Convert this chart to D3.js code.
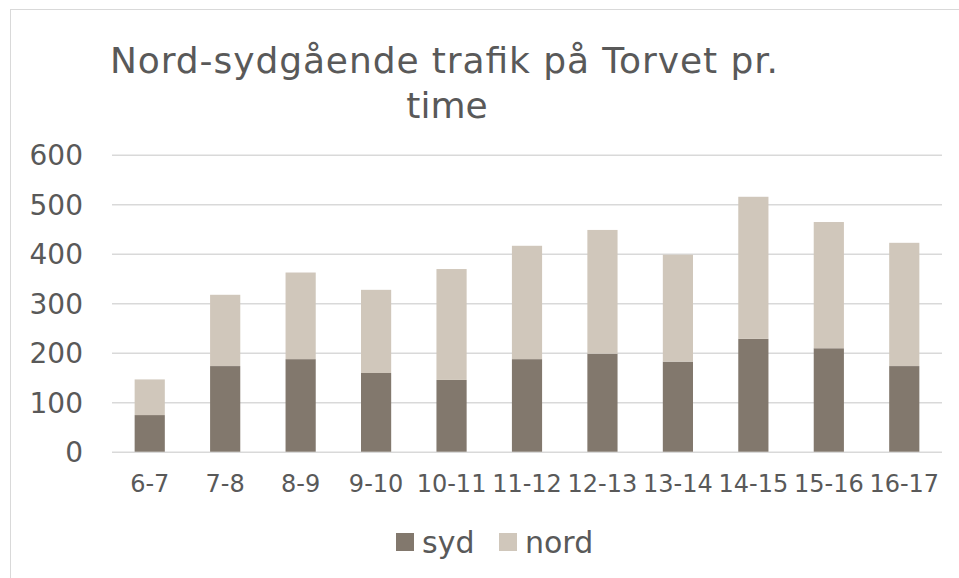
<!DOCTYPE html>
<html>
<head>
<meta charset="utf-8">
<script src="https://cdn.jsdelivr.net/npm/d3@7"></script>
<style>
  html, body { margin: 0; padding: 0; background: #fff; }
  svg text { font-family: 'DejaVu Sans', Verdana, sans-serif; }
</style>
</head>
<body>
<svg id="chart" width="959" height="578"></svg>
<script>
const hours = ['6-7', '7-8', '8-9', '9-10', '10-11', '11-12', '12-13', '13-14', '14-15', '15-16', '16-17']
const syd = [74, 173, 187, 159, 145, 187, 198, 182, 228, 209, 173]
const nord = [72, 144, 175, 168, 224, 229, 250, 216, 287, 255, 249]
const yTicks = [0, 100, 200, 300, 400, 500, 600]
const seriesNames = ['syd', 'nord']
const colors = {syd: '#82786d', nord: '#d0c7bb'}
const textColor = '#595959'
const font = "'DejaVu Sans', Verdana, sans-serif"

const svg = d3.select('#chart')

// chart frame
svg.append('rect')
  .attr('x', 10.5).attr('y', 9.5)
  .attr('width', 960).attr('height', 600)
  .attr('fill', 'none')
  .attr('stroke', '#d9d9d9')

const x = d3.scaleBand()
  .domain(hours)
  .range([112, 942])
  .paddingInner(0.6)
  .paddingOuter(0.3)

const y = d3.scaleLinear()
  .domain([0, 600])
  .range([451.7, 154.7])

// gridlines + value labels
const yAxis = d3.axisLeft(y).tickValues(yTicks).tickSize(-(942 - 112)).tickFormat(d => d)
const gy = svg.append('g').attr('transform', 'translate(112,0)').call(yAxis)
  .attr('font-family', font)
gy.select('.domain').remove()
gy.selectAll('.tick line').attr('stroke', '#d9d9d9').attr('stroke-width', 1.5)
gy.selectAll('.tick text')
  .attr('x', -29)
  .attr('dy', '0.36em')
  .attr('fill', textColor)
  .style('font-size', '28px')

const table = hours.map((h, i) => ({hour: h, syd: syd[i], nord: nord[i]}))
const stacked = d3.stack().keys(seriesNames)(table)

svg.append('g').selectAll('g').data(stacked).enter().append('g')
  .attr('fill', d => colors[d.key])
  .selectAll('rect').data(d => d).enter().append('rect')
    .attr('x', d => x(d.data.hour))
    .attr('width', x.bandwidth())
    .attr('y', d => y(d[1]))
    .attr('height', d => y(d[0]) - y(d[1]))

// category labels
const xAxis = d3.axisBottom(x).tickSize(0)
const gx = svg.append('g').attr('transform', 'translate(0,451.7)').call(xAxis)
  .attr('font-family', font)
gx.select('.domain').remove()
gx.selectAll('.tick text')
  .attr('y', 40.5)
  .attr('dy', 0)
  .attr('fill', textColor)
  .style('font-size', '24px')

// title
const title = svg.append('text')
  .attr('fill', textColor)
  .attr('text-anchor', 'middle')
  .style('font-size', '36px')
title.append('tspan').attr('x', 444).attr('y', 72.5)
  .attr('textLength', 668).attr('lengthAdjust', 'spacing')
  .text('Nord-sydgående trafik på Torvet pr.')
title.append('tspan').attr('x', 447).attr('y', 118).text('time')

// legend
const legendX = [396, 499]
const legend = svg.append('g').selectAll('g').data(seriesNames).enter().append('g')
  .attr('transform', (d, i) => `translate(${legendX[i]},533)`)
legend.append('rect')
  .attr('width', 18).attr('height', 18)
  .attr('fill', d => colors[d])
legend.append('text')
  .attr('x', 26).attr('y', 19.5)
  .attr('fill', textColor)
  .style('font-size', '30px')
  .text(d => d)
</script>
</body>
</html>
